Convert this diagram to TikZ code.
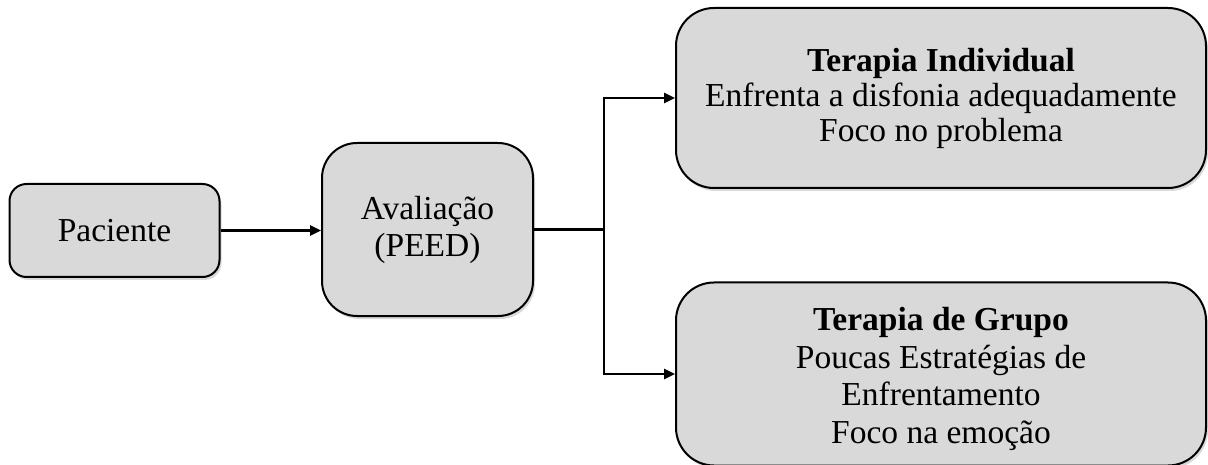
\documentclass[tikz,border=0pt]{standalone}
\usepackage{fontspec}
\setmainfont{Liberation Serif}
\usetikzlibrary{arrows.meta,shadows,calc}
\definecolor{boxgray}{HTML}{D9D9D9}
\begin{document}
\begin{tikzpicture}[x=1pt,y=-1pt,
  box/.style={draw=black, line width=2pt, fill=boxgray, rectangle, align=center,
    inner sep=0pt, drop shadow={shadow xshift=2pt, shadow yshift=-3pt, opacity=0.3}},
  boxtext/.style={align=center, inner sep=0pt},
  conn/.style={draw=black, line width=2.6pt},
  arr/.style={conn, -{Triangle[length=11pt,width=10pt]}}]
\useasboundingbox (0,0) rectangle (1208,465);
\node[box, minimum width=210pt, minimum height=93pt, rounded corners=17pt,
  font=\fontsize{33.5}{35}\selectfont] (pac) at (114.5,230.5) {Paciente};
\node[box, minimum width=211pt, minimum height=173pt, rounded corners=35pt,
  font=\fontsize{33.5}{37}\selectfont] (aval) at (427.5,229.5) {Avaliação\\(PEED)};
\node[box, minimum width=530pt, minimum height=180pt, rounded corners=38pt,
  font=\fontsize{33.5}{35}\selectfont] (ind) at (941,98)
  {\textbf{Terapia Individual}\\Enfrenta a disfonia adequadamente\\Foco no problema};
\node[box, minimum width=530pt, minimum height=183pt, rounded corners=38pt] (grp) at (941,374) {};
\node[boxtext, font=\fontsize{33.5}{37.5}\selectfont] (grptext) at (941,379)
  {\textbf{Terapia de Grupo}\\Poucas Estratégias de\\Enfrentamento\\Foco na emoção};
\coordinate (jx) at (604,0);
\coordinate (j) at (aval.east -| jx);
\draw[arr] (pac.east) -- (pac.east -| aval.west);
\draw[conn] (aval.east) -- (j);
\draw[arr] (j) |- (ind.west);
\draw[arr] (j) |- (grp.west);
\end{tikzpicture}
\end{document}
